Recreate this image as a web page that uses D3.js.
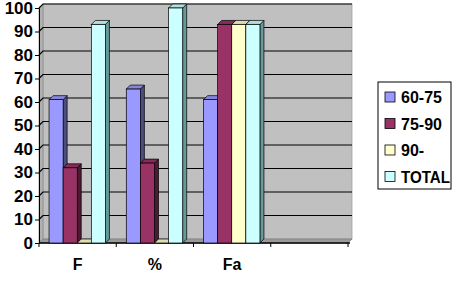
<!DOCTYPE html>
<html>
<head>
<meta charset="utf-8">
<script src="https://cdn.jsdelivr.net/npm/d3@7"></script>
<style>
  body { margin: 0; background: #fff; }
  text { font-family: "Liberation Sans", Arial, sans-serif; font-weight: bold; }
</style>
</head>
<body>
<script>
// data
let categories = ["F", "%", "Fa", ""];
let seriesNames = ["60-75", "75-90", "90-", "TOTAL"];
let s6075 = [61, 65.5, 61, null];
let s7590 = [32, 34, 93, null];
let s90 = [0, 0, 93, null];
let sTotal = [93, 100, 93, null];
let yTicks = [0, 10, 20, 30, 40, 50, 60, 70, 80, 90, 100];

let colors = ["#9999ff", "#993366", "#ffffcc", "#ccffff"];
let sideColors = ["#4d4d80", "#4d1a33", "#80806a", "#669999"];
let allSeries = [s6075, s7590, s90, sTotal];

let width = 460, height = 287;
let dx = 4, dy = 4; // 3d depth

let svg = d3.select("body").append("svg")
    .attr("width", width)
    .attr("height", height);

let x0 = d3.scaleBand().domain(categories).range([39, 348]);
let x1 = d3.scaleBand().domain(seriesNames)
    .range([x0.bandwidth() * 0.13, x0.bandwidth() * 0.86]);
let y = d3.scaleLinear().domain([0, 100]).range([243, 8]);

let left = 39, right = 348;

// back wall
svg.append("rect")
    .attr("x", left + dx).attr("y", y(100) - dy)
    .attr("width", right - left).attr("height", y(0) - y(100))
    .attr("fill", "#c0c0c0").attr("stroke", "#a0a0a0").attr("stroke-width", 0.8);

// left side wall
svg.append("path")
    .attr("d", `M${left},${y(100)}L${left + dx},${y(100) - dy}L${left + dx},${y(0) - dy}L${left},${y(0)}Z`)
    .attr("fill", "#b0b0b0").attr("stroke", "#909090").attr("stroke-width", 0.8);

// floor
svg.append("path")
    .attr("d", `M${left},${y(0)}L${left + dx},${y(0) - dy}L${right + dx},${y(0) - dy}L${right},${y(0)}Z`)
    .attr("fill", "#9a9a9a").attr("stroke", "#808080").attr("stroke-width", 0.8);

// gridlines
yTicks.filter(d => d > 0).forEach(function(t) {
    svg.append("path")
        .attr("d", `M${left},${y(t)}L${left + dx},${y(t) - dy}L${right + dx},${y(t) - dy}`)
        .attr("fill", "none").attr("stroke", "#000").attr("stroke-width", 1.2);
});

// y axis
let yAxis = d3.axisLeft(y).tickValues(yTicks).tickSize(4).tickPadding(2);
let yg = svg.append("g").attr("transform", `translate(${left},0)`).call(yAxis);
yg.select(".domain").attr("stroke", "#000");
yg.selectAll(".tick text").style("font-size", "17px").attr("fill", "#000");

// x axis (ticks at category borders)
svg.append("line")
    .attr("x1", left).attr("x2", right + dx * 0.5)
    .attr("y1", y(0)).attr("y2", y(0))
    .attr("stroke", "#000").attr("stroke-width", 1.5);
let borders = categories.map(c => x0(c)).concat([right]);
svg.selectAll(".xtick").data(borders).enter().append("line")
    .attr("x1", d => d).attr("x2", d => d)
    .attr("y1", y(0)).attr("y2", y(0) + 4)
    .attr("stroke", "#000");
svg.selectAll(".xlabel").data(categories).enter().append("text")
    .attr("x", d => x0(d) + x0.bandwidth() / 2)
    .attr("y", 270)
    .attr("text-anchor", "middle")
    .style("font-size", "16px")
    .text(d => d);

// bars
let bars = [];
categories.forEach(function(c, ci) {
    seriesNames.forEach(function(s, si) {
        let v = allSeries[si][ci];
        if (v === null) return;
        bars.push({cat: c, s: s, si: si, v: v});
    });
});

let g = svg.append("g");
bars.forEach(function(d) {
    let bx = x0(d.cat) + x1(d.s);
    let bw = x1.bandwidth();
    let top = y(d.v), bot = y(0);
    let fill = colors[d.si];
    // side
    g.append("path")
        .attr("d", `M${bx + bw},${top}L${bx + bw + dx},${top - dy}L${bx + bw + dx},${bot - dy}L${bx + bw},${bot}Z`)
        .attr("fill", sideColors[d.si]).attr("stroke", "#000").attr("stroke-width", 0.7);
    // top
    g.append("path")
        .attr("d", `M${bx},${top}L${bx + dx},${top - dy}L${bx + bw + dx},${top - dy}L${bx + bw},${top}Z`)
        .attr("fill", d3.color(fill).darker(0.4)).attr("stroke", "#000").attr("stroke-width", 0.7);
    // front
    if (d.v > 0) {
        g.append("rect")
            .attr("x", bx).attr("y", top)
            .attr("width", bw).attr("height", bot - top)
            .attr("fill", fill).attr("stroke", "#000").attr("stroke-width", 0.7);
    }
});

// legend
let lg = svg.append("g").attr("transform", "translate(378,82)");
lg.append("rect").attr("width", 73).attr("height", 107)
    .attr("fill", "#fff").attr("stroke", "#000");
seriesNames.forEach(function(s, i) {
    lg.append("rect")
        .attr("x", 7).attr("y", 10 + i * 26.5)
        .attr("width", 10).attr("height", 10)
        .attr("fill", colors[i]).attr("stroke", "#000").attr("stroke-width", 0.8);
    lg.append("text")
        .attr("x", 23).attr("y", 21 + i * 26.5)
        .style("font-size", "16px")
        .attr("textLength", s === "TOTAL" ? 49 : null)
        .attr("lengthAdjust", "spacingAndGlyphs")
        .text(s);
});
</script>
</body>
</html>
